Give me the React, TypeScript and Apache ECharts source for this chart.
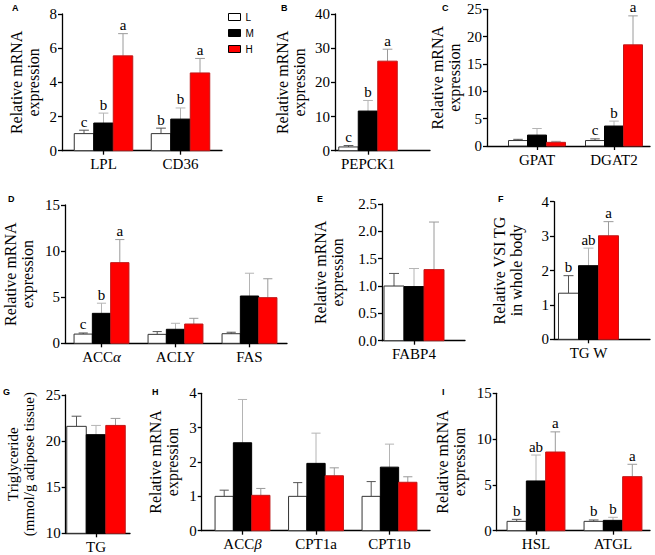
import React, { useEffect, useRef } from "react";
import * as echarts from "echarts";

// ---------- data ----------
const groups = ["L", "M", "H"];

// A
const aCategories = ["LPL", "CD36"];
const aL = [1.0, 1.0];
const aM = [1.62, 1.85];
const aH = [5.55, 4.55];
const aLErr = [0.2, 0.32];
const aMErr = [0.58, 0.65];
const aHErr = [1.3, 0.85];
const aLetters = [["c", "b"], ["b", "b"], ["a", "a"]];

// B
const bCategories = ["PEPCK1"];
const bL = [1.1];
const bM = [11.6];
const bH = [26.2];
const bLErr = [0.4];
const bMErr = [3.1];
const bHErr = [3.5];
const bLetters = [["c"], ["b"], ["a"]];

// C
const cCategories = ["GPAT", "DGAT2"];
const cL = [1.0, 1.0];
const cM = [2.0, 3.65];
const cH = [0.67, 18.5];
const cLErr = [0.22, 0.3];
const cMErr = [1.2, 0.9];
const cHErr = [0.18, 5.3];
const cLetters = [["", "c"], ["", "b"], ["", "a"]];

// D
const dCategories = ["ACCα", "ACLY", "FAS"];
const dL = [1.0, 0.97, 1.04];
const dM = [3.25, 1.52, 5.13];
const dH = [8.75, 2.09, 4.95];
const dLErr = [0.12, 0.3, 0.16];
const dMErr = [1.1, 0.65, 2.47];
const dHErr = [2.5, 0.62, 2.05];
const dLetters = [["c", "", ""], ["b", "", ""], ["a", "", ""]];

// E
const eCategories = ["FABP4"];
const eL = [1.0];
const eM = [0.99];
const eH = [1.3];
const eLErr = [0.23];
const eMErr = [0.33];
const eHErr = [0.87];
const eLetters = [[""], [""], [""]];

// F
const fCategories = ["TG W"];
const fL = [1.34];
const fM = [2.14];
const fH = [3.01];
const fLErr = [0.51];
const fMErr = [0.51];
const fHErr = [0.41];
const fLetters = [["b"], ["ab"], ["a"]];

// G
const gCategories = ["TG"];
const gL = [21.6];
const gM = [20.7];
const gH = [21.7];
const gLErr = [1.1];
const gMErr = [1.0];
const gHErr = [0.76];
const gLetters = [[""], [""], [""]];

// H
const hCategories = ["ACCβ", "CPT1a", "CPT1b"];
const hL = [1.0, 1.0, 1.0];
const hM = [2.56, 1.96, 1.85];
const hH = [1.03, 1.6, 1.41];
const hLErr = [0.18, 0.4, 0.43];
const hMErr = [1.26, 0.88, 0.67];
const hHErr = [0.2, 0.23, 0.16];
const hLetters = [["", "", ""], ["", "", ""], ["", "", ""]];

// I
const iCategories = ["HSL", "ATGL"];
const iL = [1.02, 1.02];
const iM = [5.43, 1.13];
const iH = [8.59, 5.9];
const iLErr = [0.22, 0.15];
const iMErr = [2.83, 0.33];
const iHErr = [2.2, 1.35];
const iLetters = [["b", "b"], ["ab", "b"], ["a", "a"]];

// ---------- styles / layout ----------
const SERIF = "Liberation Serif";
const SANS = "Liberation Sans";
const fills = ["#ffffff", "#000000", "#ff0000"];
const strokes = ["#333333", "#000000", "#c01818"];
const errColors = ["#555555", "#b4b4b4", "#9a9a9a"];

const panels = [
  { label: "A", lx: 12, ly: 3, cats: aCategories, means: [aL, aM, aH], errs: [aLErr, aMErr, aHErr], letters: aLetters,
    yMin: 0, yMax: 8, yStep: 2, yName: "Relative mRNA\nexpression", dec: 0, nameSize: 16,
    left: 62, right: 222, top: 14, bottom: 150.7, c0: 103.5, sp: 77, barW: 19.5, nameGap: 20 },
  { label: "B", lx: 281, ly: 3, cats: bCategories, means: [bL, bM, bH], errs: [bLErr, bMErr, bHErr], letters: bLetters,
    yMin: 0, yMax: 40, yStep: 10, yName: "Relative mRNA\nexpression", dec: 0, nameSize: 16,
    left: 335, right: 430, top: 14, bottom: 150.7, c0: 368, sp: 66, barW: 19.5, nameGap: 27 },
  { label: "C", lx: 442, ly: 3, cats: cCategories, means: [cL, cM, cH], errs: [cLErr, cMErr, cHErr], letters: cLetters,
    yMin: 0, yMax: 25, yStep: 5, yName: "Relative mRNA\nexpression", dec: 0, nameSize: 16,
    left: 487, right: 650, top: 9.3, bottom: 146, c0: 537, sp: 77, barW: 19, nameGap: 19 },
  { label: "D", lx: 8, ly: 194, cats: dCategories, means: [dL, dM, dH], errs: [dLErr, dMErr, dHErr], letters: dLetters,
    yMin: 0, yMax: 15, yStep: 5, yName: "Relative mRNA\nexpression", dec: 0, nameSize: 16,
    left: 65, right: 287, top: 205, bottom: 343.3, c0: 101.5, sp: 74, barW: 18.3, nameGap: 29 },
  { label: "E", lx: 317, ly: 194, cats: eCategories, means: [eL, eM, eH], errs: [eLErr, eMErr, eHErr], letters: eLetters,
    yMin: 0, yMax: 2.5, yStep: 0.5, yName: "Relative mRNA\nexpression", dec: 1, nameSize: 16,
    left: 382, right: 465, top: 204, bottom: 340.7, c0: 414, sp: 64, barW: 20, nameGap: 36 },
  { label: "F", lx: 498, ly: 194, cats: fCategories, means: [fL, fM, fH], errs: [fLErr, fMErr, fHErr], letters: fLetters,
    yMin: 0, yMax: 4, yStep: 1, yName: "Relative VSI TG\nin whole body", dec: 0, nameSize: 16,
    left: 554, right: 650, top: 201.7, bottom: 339.3, c0: 588.5, sp: 69, barW: 20, nameGap: 29 },
  { label: "G", lx: 3, ly: 387, cats: gCategories, means: [gL, gM, gH], errs: [gLErr, gMErr, gHErr], letters: gLetters,
    yMin: 10, yMax: 25, yStep: 5, yName: "Triglyceride\n(mmol/g adipose tissue)", dec: 0, nameSize: 15,
    left: 65.7, right: 130, top: 395, bottom: 533.3, c0: 96, sp: 60, barW: 19.5, nameGap: 29 },
  { label: "H", lx: 152, ly: 387, cats: hCategories, means: [hL, hM, hH], errs: [hLErr, hMErr, hHErr], letters: hLetters,
    yMin: 0, yMax: 4, yStep: 1, yName: "Relative mRNA\nexpression", dec: 0, nameSize: 16,
    left: 201.7, right: 430, top: 393.3, bottom: 530.7, c0: 242.5, sp: 73.5, barW: 18.3, nameGap: 21 },
  { label: "I", lx: 442, ly: 387, cats: iCategories, means: [iL, iM, iH], errs: [iLErr, iMErr, iHErr], letters: iLetters,
    yMin: 0, yMax: 15, yStep: 5, yName: "Relative mRNA\nexpression", dec: 0, nameSize: 16,
    left: 496.7, right: 650, top: 393.3, bottom: 530.7, c0: 536, sp: 77, barW: 19.3, nameGap: 29 },
];

const axisLine = { show: true, onZero: false, lineStyle: { color: "#000", width: 1.3 } };
const axisTick = { show: true, length: 4, lineStyle: { color: "#000", width: 1.3 } };

function buildOption() {
  const grid: any[] = [];
  const xAxis: any[] = [];
  const yAxis: any[] = [];
  const series: any[] = [];
  const graphic: any[] = [];

  panels.forEach((p, i) => {
    const xMin = -(p.c0 - p.left) / p.sp;
    const xMax = xMin + (p.right - p.left) / p.sp;
    const idx = p.cats.map((_, j) => j);
    grid.push({ left: p.left, top: p.top, width: p.right - p.left, height: p.bottom - p.top, containLabel: false });
    xAxis.push({
      gridIndex: i, type: "value", min: xMin, max: xMax,
      axisLine, splitLine: { show: false },
      axisTick: { ...axisTick, customValues: idx },
      axisLabel: {
        customValues: idx, margin: 6, color: "#000", fontFamily: SERIF, fontSize: 15,
        formatter: (v: number) => {
          const s = p.cats[Math.round(v)] ?? "";
          return s.replace(/([αβ])/g, "{i|$1}");
        },
        rich: { i: { fontStyle: "italic", fontFamily: SERIF, fontSize: 15, color: "#000" } },
      },
    });
    yAxis.push({
      gridIndex: i, type: "value", min: p.yMin, max: p.yMax, interval: p.yStep,
      axisLine, axisTick, splitLine: { show: false },
      axisLabel: { margin: 5, color: "#000", fontFamily: SERIF, fontSize: 15,
        formatter: (v: number) => v.toFixed(p.dec) },
      name: p.yName, nameLocation: "middle", nameGap: p.nameGap, nameRotate: 90,
      nameTextStyle: { color: "#000", fontFamily: SERIF, fontWeight: "normal", fontSize: p.nameSize, lineHeight: p.nameSize + 1 },
    });
    groups.forEach((g, k) => {
      series.push({
        type: "custom", name: g, xAxisIndex: i, yAxisIndex: i,
        itemStyle: { color: fills[k], borderColor: strokes[k] },
        encode: { x: 0, y: 1 },
        data: p.cats.map((_, j) => [j, p.means[k][j], p.errs[k][j]]),
        renderItem: (params: any, api: any) => {
          const j = api.value(0);
          const v = api.value(1);
          const e = api.value(2);
          const top = api.coord([j, v]);
          const base = api.coord([j, p.yMin]);
          const et = api.coord([j, v + e]);
          const cx = top[0] + (k - 1) * p.barW;
          const capW = p.barW * 0.5;
          const children: any[] = [
            { type: "line", shape: { x1: cx, y1: top[1], x2: cx, y2: et[1] }, style: { stroke: errColors[k], lineWidth: 1 } },
            { type: "line", shape: { x1: cx - capW / 2, y1: et[1], x2: cx + capW / 2, y2: et[1] }, style: { stroke: errColors[k], lineWidth: 1 } },
            { type: "rect", shape: { x: cx - p.barW / 2, y: top[1], width: p.barW, height: base[1] - top[1] },
              style: { fill: fills[k], stroke: strokes[k], lineWidth: 1 } },
          ];
          const letter = p.letters[k][params.dataIndex];
          if (letter) {
            children.push({ type: "text", x: cx, y: et[1] - 1,
              style: { text: letter, fill: "#000", fontFamily: SERIF, fontSize: 15, align: "center", verticalAlign: "bottom" } });
          }
          return { type: "group", children };
        },
      });
    });
    graphic.push({ type: "text", left: p.lx, top: p.ly,
      style: { text: p.label, fill: "#000", fontFamily: SANS, fontWeight: "bold", fontSize: 9 } });
  });

  return {
    animation: false,
    backgroundColor: "#ffffff",
    grid, xAxis, yAxis, series, graphic,
    legend: {
      orient: "vertical", left: 223, top: 6, itemWidth: 12, itemHeight: 7, itemGap: 4,
      selectedMode: false, icon: "rect",
      textStyle: { color: "#000", fontFamily: SANS, fontSize: 10, lineHeight: 12 },
      data: [
        { name: "L", itemStyle: { color: "#ffffff", borderColor: "#000", borderWidth: 1 } },
        { name: "M", itemStyle: { color: "#000000", borderColor: "#000", borderWidth: 1 } },
        { name: "H", itemStyle: { color: "#ff0000", borderColor: "#000", borderWidth: 1 } },
      ],
    },
  };
}

export default function App() {
  const ref = useRef<HTMLDivElement>(null);
  useEffect(() => {
    if (!ref.current) return;
    const chart = echarts.init(ref.current, null, { renderer: "svg" });
    chart.setOption(buildOption() as any);
    return () => chart.dispose();
  }, []);
  return <div ref={ref} style={{ position: "fixed", left: 0, top: 0, width: 655, height: 555, background: "#fff" }} />;
}
